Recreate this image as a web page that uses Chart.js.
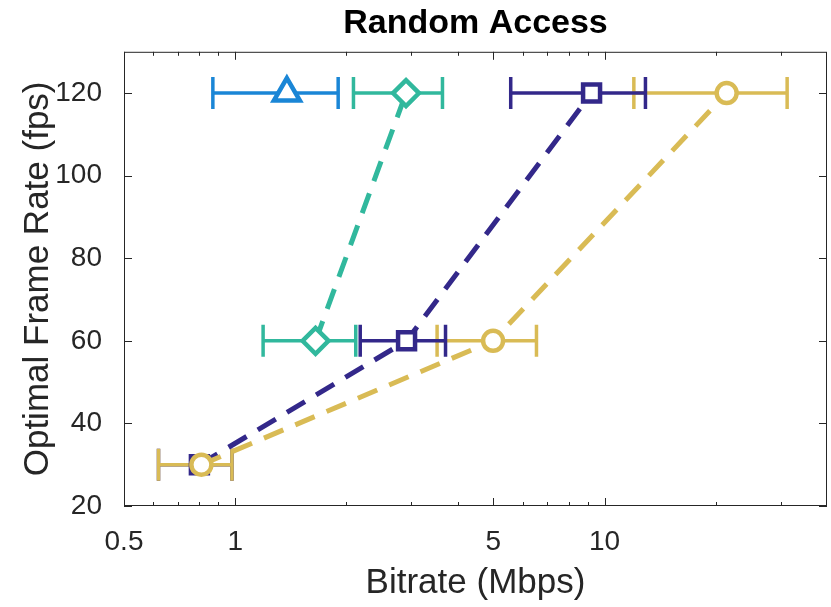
<!DOCTYPE html>
<html>
<head>
<meta charset="utf-8">
<script src="https://cdn.jsdelivr.net/npm/chart.js@4"></script>
<style>
  html, body { margin: 0; padding: 0; background: #ffffff; }
  #wrap { width: 831px; height: 607px; }
</style>
</head>
<body>
<div id="wrap"><canvas id="grafico" width="831" height="607"></canvas></div>
<script>
// Dados (bitrate em Mbps, taxa de quadros em fps)
const xTicks = [0.5, 1, 5, 10];
const xMinor = [0.6, 0.7, 0.8, 0.9, 2, 3, 4, 6, 7, 8, 9, 20, 30];
const yTicks = [20, 40, 60, 80, 100, 120];

const triRate = [120];
const triMean = [1.38];
const triLow = [0.87];
const triHigh = [1.90];

const diaRate = [60, 120];
const diaMean = [1.65, 2.90];
const diaLow = [1.19, 2.09];
const diaHigh = [2.12, 3.64];

const sqRate = [30, 60, 120];
const sqMean = [0.80, 2.91, 9.22];
const sqLow = [0.62, 2.18, 5.57];
const sqHigh = [0.98, 3.71, 12.9];

const ciRate = [30, 60, 120];
const ciMean = [0.81, 4.99, 21.4];
const ciLow = [0.62, 3.52, 12.0];
const ciHigh = [0.98, 6.54, 31.2];

// Cores
const corAzul = '#1a86d6';
const corVerde = '#31b89d';
const corRoxo = '#33288a';
const corAmarelo = '#d9bb55';
const fonte = 'Liberation Sans, Arial, sans-serif';

// Série principal: marcador + linha tracejada
function serie(label, rates, means, cor, estilo, raio, ordem) {
    return {
        label: label,
        data: rates.map((r, i) => ({ x: means[i], y: r })),
        showLine: true,
        borderColor: cor,
        backgroundColor: '#ffffff',
        borderWidth: 5,
        borderDash: [21, 13],
        pointStyle: estilo,
        pointRadius: raio,
        pointBorderWidth: 4.5,
        pointBackgroundColor: '#ffffff',
        pointBorderColor: cor,
        order: ordem
    };
}

// Barras de erro horizontais (uma por ponto); ordens diferentes por ponto
function barras(label, rates, lows, highs, cor, ordens) {
    return rates.map((r, i) => ({
        label: label + ' erro',
        data: [{ x: lows[i], y: r }, { x: highs[i], y: r }],
        showLine: true,
        borderColor: cor,
        borderWidth: 3.5,
        pointStyle: 'line',
        pointRotation: 90,
        pointRadius: 16,
        pointBorderWidth: 3.5,
        pointBorderColor: cor,
        order: ordens[i]
    }));
}

// Moldura e marcas dos eixos (para dentro, como no MATLAB)
const molduraPlugin = {
    id: 'moldura',
    afterDraw(chart) {
        const ctx = chart.ctx;
        const a = chart.chartArea;
        const sx = chart.scales.x;
        const sy = chart.scales.y;
        ctx.save();
        ctx.strokeStyle = '#262626';
        ctx.lineWidth = 1;
        ctx.strokeRect(a.left + 0.5, a.top + 0.5, a.right - a.left - 1, a.bottom - a.top - 1);
        ctx.beginPath();
        const marca = (v, len) => {
            const px = Math.round(sx.getPixelForValue(v)) + 0.5;
            ctx.moveTo(px, a.bottom); ctx.lineTo(px, a.bottom - len);
            ctx.moveTo(px, a.top); ctx.lineTo(px, a.top + len);
        };
        xTicks.forEach(v => marca(v, 8));
        xMinor.forEach(v => marca(v, 4));
        yTicks.forEach(v => {
            const py = Math.round(sy.getPixelForValue(v)) + 0.5;
            ctx.moveTo(a.left, py); ctx.lineTo(a.left + 8, py);
            ctx.moveTo(a.right, py); ctx.lineTo(a.right - 8, py);
        });
        ctx.stroke();
        ctx.restore();
    }
};

const ctx = document.getElementById('grafico').getContext('2d');
const datasets = [].concat(
    [serie('Circulo', ciRate, ciMean, corAmarelo, 'circle', 10, 1)],
    [serie('Quadrado', sqRate, sqMean, corRoxo, 'rect', 12, 2)],
    [serie('Losango', diaRate, diaMean, corVerde, 'rectRot', 13, 3)],
    [serie('Triangulo', triRate, triMean, corAzul, 'triangle', 15, 4)],
    barras('Quadrado', sqRate, sqLow, sqHigh, corRoxo, [9, 5, 5]),
    barras('Circulo', ciRate, ciLow, ciHigh, corAmarelo, [6, 6, 6]),
    barras('Losango', diaRate, diaLow, diaHigh, corVerde, [7, 7]),
    barras('Triangulo', triRate, triLow, triHigh, corAzul, [8])
);

new Chart(ctx, {
    type: 'scatter',
    data: { datasets: datasets },
    options: {
        responsive: false,
        animation: false,
        layout: { autoPadding: false, padding: { left: 0, right: 4, top: 2, bottom: 0 } },
        plugins: {
            legend: { display: false },
            tooltip: { enabled: false },
            title: {
                display: true,
                text: 'Random Access',
                fullSize: false,
                color: '#000000',
                font: { family: fonte, size: 34, weight: 'bold' },
                padding: { top: 1, bottom: 8 }
            }
        },
        scales: {
            x: {
                type: 'logarithmic',
                min: 0.5,
                max: 40,
                afterBuildTicks: s => { s.ticks = xTicks.map(v => ({ value: v })); },
                afterFit: s => { s.height = 101; s.paddingLeft = 0; s.paddingRight = 0; },
                grid: { display: false },
                border: { display: false },
                ticks: {
                    color: '#262626',
                    autoSkip: false,
                    maxRotation: 0,
                    padding: 11,
                    font: { family: fonte, size: 28 },
                    callback: v => String(v)
                },
                title: {
                    display: true,
                    text: 'Bitrate (Mbps)',
                    color: '#262626',
                    font: { family: fonte, size: 35 },
                    padding: { top: 0, bottom: 3 }
                }
            },
            y: {
                min: 20,
                max: 130,
                afterBuildTicks: s => { s.ticks = yTicks.map(v => ({ value: v })); },
                afterFit: s => { s.width = 124; },
                grid: { display: false },
                border: { display: false },
                ticks: {
                    color: '#262626',
                    padding: 14,
                    font: { family: fonte, size: 28 }
                },
                title: {
                    display: true,
                    text: 'Optimal Frame Rate (fps)',
                    color: '#262626',
                    font: { family: fonte, size: 35 },
                    padding: { top: 17, bottom: 0 }
                }
            }
        }
    },
    plugins: [molduraPlugin]
});
</script>
</body>
</html>
